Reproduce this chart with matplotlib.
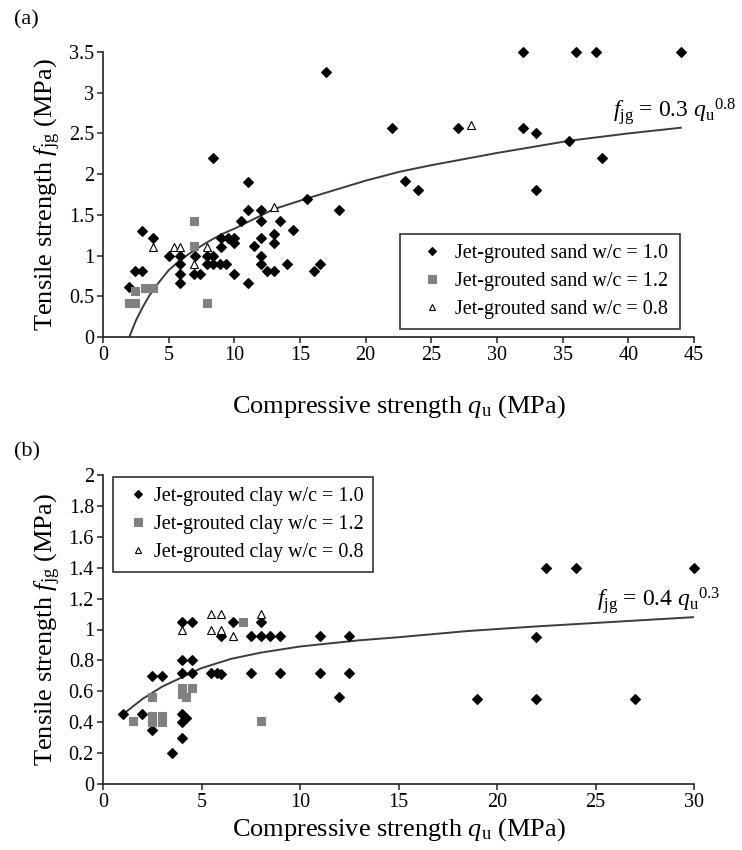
import numpy as np
import matplotlib
matplotlib.use('Agg')
import matplotlib.pyplot as plt

plt.rcParams['font.family'] = ['Liberation Serif', 'DejaVu Serif']
plt.rcParams['mathtext.fontset'] = 'custom'
plt.rcParams['mathtext.rm'] = 'Liberation Serif'
plt.rcParams['mathtext.it'] = 'Liberation Serif:italic'

# ---- panel (a): jet-grouted sand ----
sand10_q = [3, 3.8, 2.4, 3.0, 2.0, 5.0, 5.9, 5.9, 5.9, 5.9, 7.0, 6.9, 7.4, 7.9, 8.4,
            8.9, 9.4, 8.4, 7.9, 9.0, 9.5, 10.0, 9.0, 10.0, 10.0, 10.5, 11.06, 12.0,
            12.0, 13.5, 14.5, 13.0, 13.0, 12.0, 11.5, 12.0, 12.0, 12.5, 13.0, 14.0,
            11.06, 15.5, 16.1, 16.5, 11.06, 8.4, 17, 18, 22, 23, 24,
            32, 36, 37.5, 44, 27, 32, 33, 35.5, 38, 33]
sand10_f = [1.3, 1.21, 0.81, 0.81, 0.61, 1.0, 1.0, 0.9, 0.77, 0.66, 1.0, 0.77, 0.77, 0.9, 0.9,
            0.9, 0.9, 1.0, 1.0, 1.21, 1.21, 1.21, 1.11, 1.16, 0.77, 1.43, 1.56, 1.56,
            1.42, 1.42, 1.31, 1.26, 1.16, 1.21, 1.12, 1.0, 0.9, 0.81, 0.81, 0.9,
            0.66, 1.70, 0.81, 0.9, 1.9, 2.2, 3.25, 1.56, 2.57, 1.92, 1.8,
            3.5, 3.5, 3.5, 3.5, 2.57, 2.57, 2.51, 2.41, 2.2, 1.8]
sand12_q = [6.9, 6.9, 2.0, 2.4, 2.4, 3.2, 3.8, 7.9]
sand12_f = [1.42, 1.12, 0.42, 0.42, 0.56, 0.6, 0.6, 0.42]
sand08_q = [3.8, 5.4, 5.9, 7.9, 6.9, 13, 28]
sand08_f = [1.11, 1.11, 1.11, 1.11, 0.9, 1.6, 2.6]
# fitted curve as drawn in the figure
fit_a_q = [2, 2.5, 3, 3.5, 4, 5, 6, 7, 8, 9, 10, 12, 13, 15.5, 20, 22.6, 25, 30, 35.5, 40, 44]
fit_a_f = [0, 0.2, 0.36, 0.5, 0.62, 0.82, 0.96, 1.07, 1.17, 1.26, 1.33, 1.49, 1.57, 1.70,
           1.92, 2.03, 2.11, 2.26, 2.41, 2.50, 2.57]

# ---- panel (b): jet-grouted clay ----
clay10_q = [1, 2, 2.5, 2.5, 3, 3.5, 4, 4.5, 4, 4.5, 4, 4.5, 4, 4.2, 4, 4, 5.5, 5.8, 6,
            6.6, 6, 7.5, 8, 8.5, 9, 8, 7.5, 9, 11, 12.5, 11, 12.5, 12,
            22.5, 24, 30, 22, 19, 22, 27]
clay10_f = [0.45, 0.45, 0.35, 0.7, 0.7, 0.2, 1.05, 1.05, 0.8, 0.8, 0.72, 0.72, 0.45, 0.43, 0.4, 0.3,
            0.72, 0.72, 0.71, 1.05, 0.96, 0.96, 0.96, 0.96, 0.96, 1.05, 0.72, 0.72, 0.96, 0.96,
            0.72, 0.72, 0.56, 1.4, 1.4, 1.4, 0.95, 0.55, 0.55, 0.55]
clay12_q = [1.5, 2.5, 2.5, 3, 2.5, 3, 4, 4.5, 4.2, 4, 7.1, 8]
clay12_f = [0.41, 0.56, 0.44, 0.44, 0.4, 0.4, 0.62, 0.62, 0.56, 0.58, 1.05, 0.41]
clay08_q = [4, 5.5, 6, 5.5, 6, 6.6, 8]
clay08_f = [1.0, 1.1, 1.1, 1.0, 1.0, 0.96, 1.1]
fit_b_q = [1, 1.5, 2, 3, 4, 5, 6.5, 8, 10, 13, 15, 18.5, 22, 26, 30]
fit_b_f = [0.45, 0.5, 0.55, 0.63, 0.69, 0.75, 0.81, 0.85, 0.89, 0.93, 0.95, 0.99, 1.02, 1.05, 1.08]

xticks_a = [0, 5, 10, 15, 20, 25, 30, 35, 40, 45]
yticks_a = ['0', '0.5', '1', '1.5', '2', '2.5', '3', '3.5']
xticks_b = [0, 5, 10, 15, 20, 25, 30]
yticks_b = ['0', '0.2', '0.4', '0.6', '0.8', '1', '1.2', '1.4', '1.6', '1.8', '2']

GREY = '#808080'
CURVE = '#3c3c3c'
FS_TICK = 14.5
FS_LAB = 19
FS_LEG = 14.5
FS_EQ = 17

fig = plt.figure(figsize=(7.42, 8.5), dpi=100)
ax_a = fig.add_axes([103 / 742, 1 - 337 / 850, 591 / 742, 285 / 850])
ax_b = fig.add_axes([103 / 742, 1 - 784 / 850, 591 / 742, 309 / 850])


def style(ax, xt, yt):
    ax.set_xlim(xt[0], xt[-1])
    yv = [float(v) for v in yt]
    ax.set_ylim(yv[0], yv[-1])
    ax.set_xticks(xt)
    ax.set_xticklabels([str(v) for v in xt])
    ax.set_yticks(yv)
    ax.set_yticklabels(yt)
    for s in ['top', 'right']:
        ax.spines[s].set_visible(False)
    for s in ['left', 'bottom']:
        ax.spines[s].set_linewidth(1.2)
        ax.spines[s].set_color('#222222')
    ax.tick_params(direction='out', length=4, width=1.1, labelsize=FS_TICK,
                   color='#222222', pad=2.5)


def scatter_sets(ax, sets):
    for q, f, mk, face, ms, lab in sets:
        ax.plot(q, f, linestyle='none', marker=mk, markerfacecolor=face,
                markeredgecolor='black' if face != GREY else GREY,
                markeredgewidth=0.8, markersize=ms, label=lab, clip_on=False, zorder=3)


def add_legend(ax, box, hlen):
    leg = ax.legend(loc='center', bbox_to_anchor=box, mode='expand',
                    fontsize=FS_LEG, frameon=True, fancybox=False, framealpha=1,
                    edgecolor='#333333', labelspacing=0.45, handlelength=hlen,
                    handletextpad=0.05, borderpad=0.5, borderaxespad=0, markerscale=0.85)
    leg.get_frame().set_linewidth(1.2)


# panel (a)
style(ax_a, xticks_a, yticks_a)
ax_a.plot(fit_a_q, fit_a_f, color=CURVE, lw=1.4, zorder=2)
scatter_sets(ax_a, [
    (sand10_q, sand10_f, 'D', 'black', 4.6, 'Jet-grouted sand w/c = 1.0'),
    (sand12_q, sand12_f, 's', GREY, 6, 'Jet-grouted sand w/c = 1.2'),
    (sand08_q, sand08_f, '^', 'white', 5.5, 'Jet-grouted sand w/c = 0.8'),
])
add_legend(ax_a, (0.502, 0.019, 0.474, 0.35), 2.2)
ax_a.set_xlabel(r'Compressive strength $q_{\mathrm{u}}$ (MPa)', fontsize=FS_LAB, labelpad=20)
ax_a.set_ylabel(r'Tensile strength $f_{\mathrm{jg}}$ (MPa)', fontsize=FS_LAB, labelpad=4)
ax_a.text(38.8, 2.77, r'$f_{\mathrm{jg}}$ = 0.3 ${q_{\mathrm{u}}}^{0.8}$', fontsize=FS_EQ,
          va='center', ha='left', clip_on=False)
fig.text(14 / 742, 1 - 20 / 850, '(a)', fontsize=16, va='center', ha='left')

# panel (b)
style(ax_b, xticks_b, yticks_b)
ax_b.plot(fit_b_q, fit_b_f, color=CURVE, lw=1.4, zorder=2)
scatter_sets(ax_b, [
    (clay10_q, clay10_f, 'D', 'black', 4.6, 'Jet-grouted clay w/c = 1.0'),
    (clay12_q, clay12_f, 's', GREY, 6, 'Jet-grouted clay w/c = 1.2'),
    (clay08_q, clay08_f, '^', 'white', 5.5, 'Jet-grouted clay w/c = 0.8'),
])
add_legend(ax_b, (0.0165, 0.684, 0.44, 0.312), 1.5)
ax_b.set_xlabel(r'Compressive strength $q_{\mathrm{u}}$ (MPa)', fontsize=FS_LAB, labelpad=3)
ax_b.set_ylabel(r'Tensile strength $f_{\mathrm{jg}}$ (MPa)', fontsize=FS_LAB, labelpad=4)
ax_b.text(25.06, 1.19, r'$f_{\mathrm{jg}}$ = 0.4 ${q_{\mathrm{u}}}^{0.3}$', fontsize=FS_EQ,
          va='center', ha='left', clip_on=False)
fig.text(14 / 742, 1 - 452 / 850, '(b)', fontsize=16, va='center', ha='left')

fig.savefig('out.png', dpi=100)
